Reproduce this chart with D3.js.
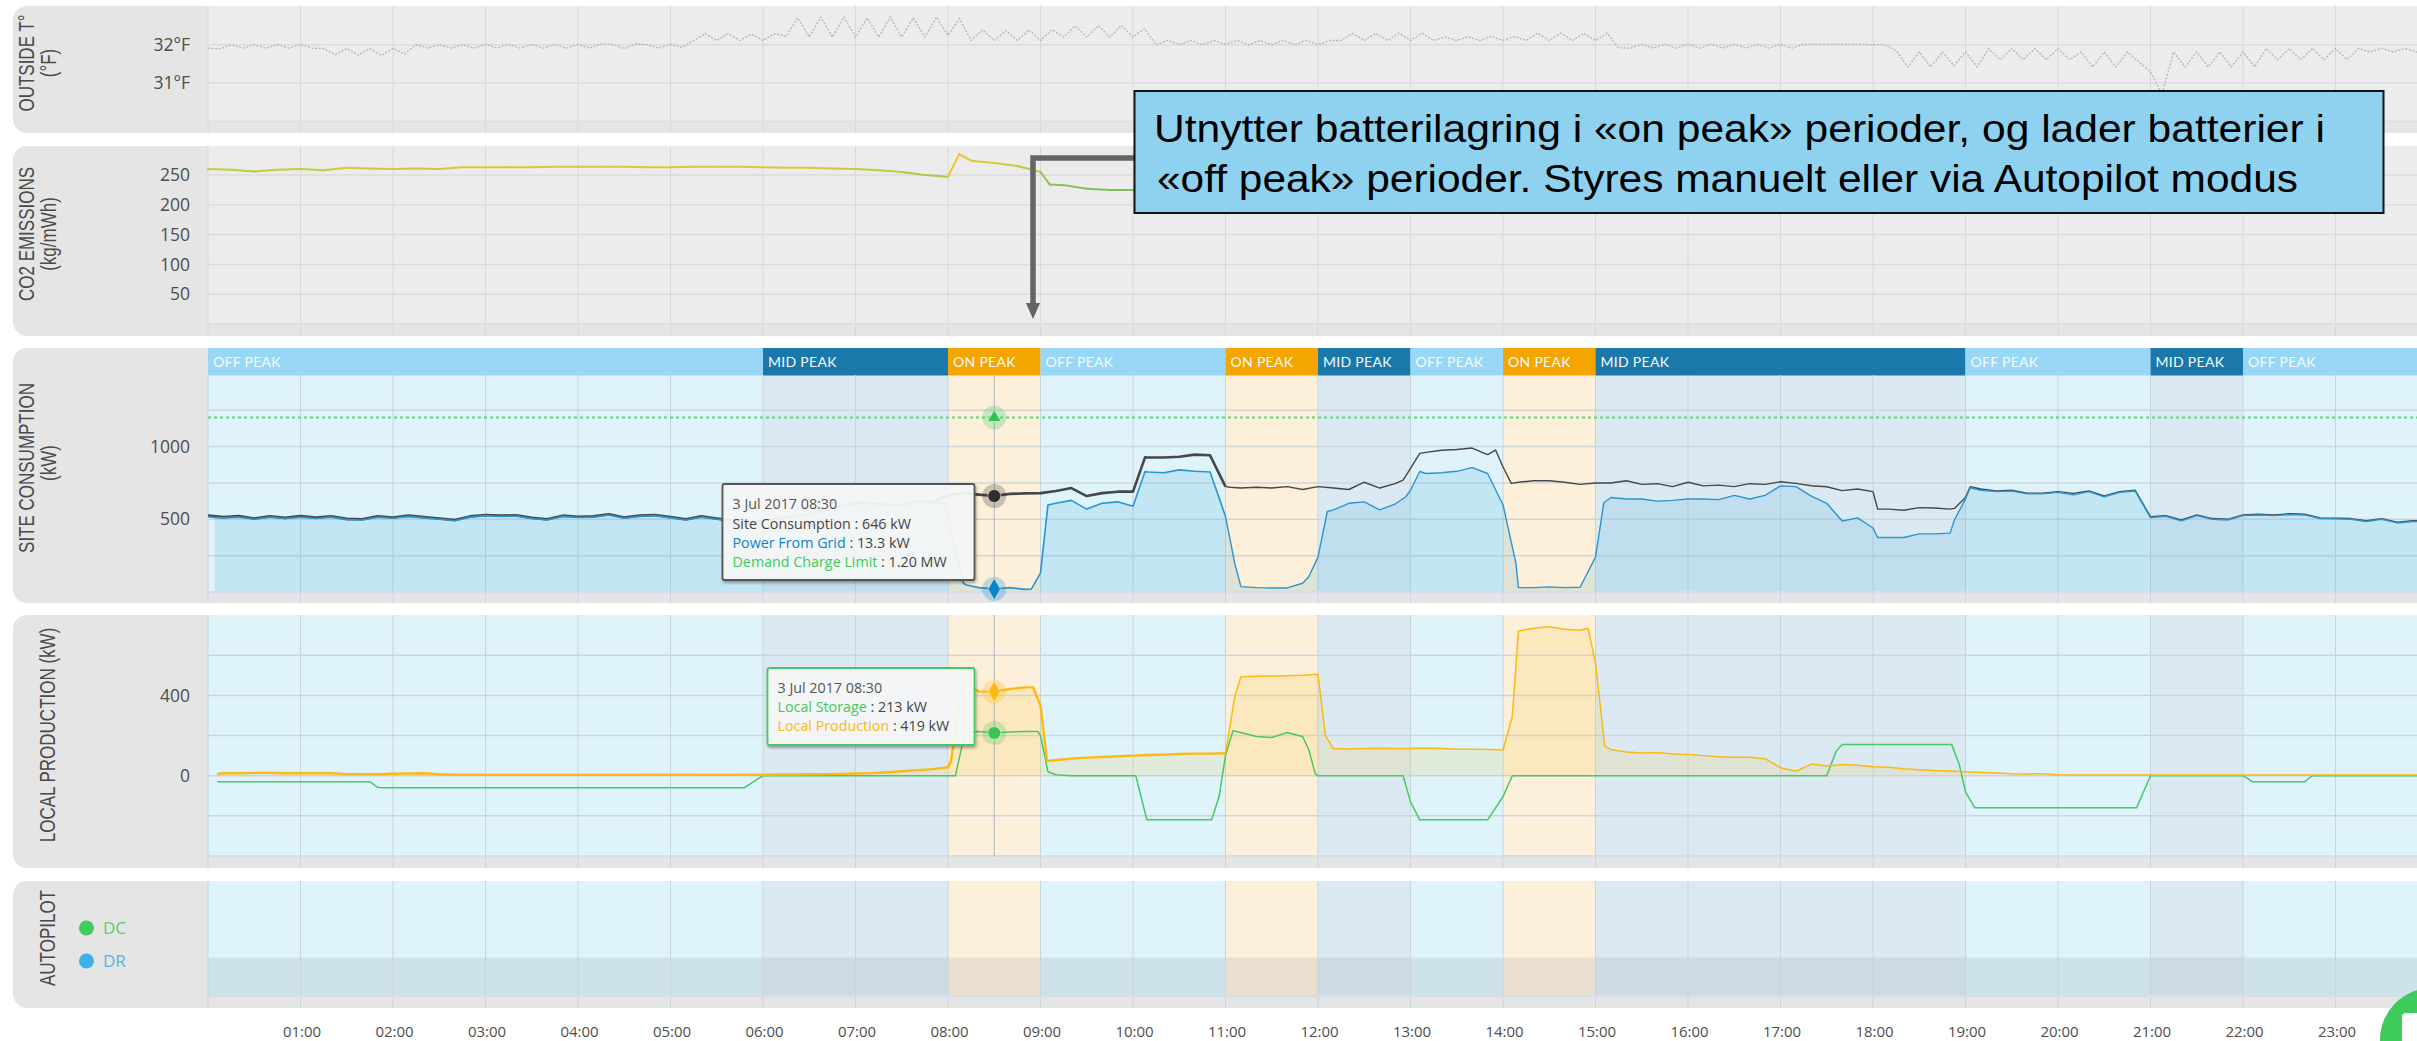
<!DOCTYPE html>
<html>
<head>
<meta charset="utf-8">
<script src="https://cdn.jsdelivr.net/npm/d3@7"></script>
<style>
  html, body { margin: 0; padding: 0; background: #fff; overflow: hidden; }
  text { font-family: "Open Sans", sans-serif; }
  .panelTitle { font-family: "Liberation Sans", sans-serif; font-size: 17px; fill: #4a4a4a; text-anchor: middle; }
  .tick text { font-family: "Open Sans", sans-serif; fill: #4d4d4d; }
</style>
</head>
<body>
<div id="chart"></div>
<script>
// hour labels
const hourLabels = ["01:00","02:00","03:00","04:00","05:00","06:00","07:00","08:00","09:00","10:00","11:00","12:00",
  "13:00","14:00","15:00","16:00","17:00","18:00","19:00","20:00","21:00","22:00","23:00"];
const hourTicks = [1,2,3,4,5,6,7,8,9,10,11,12,13,14,15,16,17,18,19,20,21,22,23];

// tariff periods
const periodNames = ["OFF PEAK","MID PEAK","ON PEAK","OFF PEAK","ON PEAK","MID PEAK","OFF PEAK","ON PEAK","MID PEAK","OFF PEAK","MID PEAK","OFF PEAK"];
const periodStart = [0,6,8,9,11,12,13,14,15,19,21,22];
const periodEnd = [6,8,9,11,12,13,14,15,19,21,22,24.2];

// outside temperature, one value every 7.5 min
const outsideTemp = [
  31.91,31.89,32.0,31.91,32.0,31.91,32.0,31.91,
  32.01,31.91,31.9,31.74,31.9,31.73,31.9,31.72,
  31.9,31.76,32.0,31.91,32.0,31.91,32.0,31.91,
  32.01,31.91,32.01,31.91,32.01,31.91,32.01,31.91,
  32.01,31.91,32.02,32.01,31.9,32.02,32.0,31.91,
  32.01,31.93,32.11,32.29,32.11,32.29,32.11,32.27,
  32.11,32.29,32.22,32.7,32.2,32.72,32.2,32.72,
  32.2,32.7,32.2,32.72,32.2,32.7,32.2,32.72,
  32.24,32.68,32.11,32.39,32.11,32.37,32.11,32.39,
  32.11,32.39,32.2,32.49,32.2,32.5,32.2,32.5,
  32.2,32.42,32.0,32.11,32.0,32.11,32.0,32.11,
  32.01,32.11,32.0,32.11,32.0,32.11,32.0,32.11,
  32.0,32.11,32.11,32.3,32.11,32.3,32.11,32.3,
  32.11,32.3,32.11,32.2,32.11,32.21,32.11,32.22,
  32.11,32.21,32.11,32.3,32.11,32.3,32.11,32.3,
  32.11,32.3,31.92,31.91,32.01,31.91,32.01,31.91,
  32.01,31.91,32.01,31.91,32.01,31.91,32.01,31.91,
  32.01,31.91,32.01,32.01,32.01,32.01,32.01,32.01,
  32.0,32.0,31.85,31.42,31.81,31.42,31.81,31.45,
  31.81,31.42,31.9,31.61,31.9,31.61,31.9,31.61,
  31.9,31.61,31.81,31.42,31.81,31.42,31.81,31.55,
  31.29,30.72,31.81,31.42,31.81,31.42,31.81,31.42,
  31.81,31.42,31.9,31.61,31.9,31.61,31.9,31.61,
  31.9,31.61,31.9,31.81,31.91,31.81,31.9,31.81,31.9
];

// CO2 emissions, one value every 15 min
const co2Emissions = [
  260,259,256,259, 260,258,262,261, 260,261,260,263, 263,263,263,264,
  264,264,264,263, 263,264,264,264, 263,262,262,261, 260,258,255,250,
  247,274,270,265, 255,233,227,225, 225,224,226,228, 230,232,232,235,
  236,238,240,240, 242,242,244,245, 246,246,248,250, 250,250,252,252,
  252,254,254,254, 255,255,256,256, 256,257,257,258, 258,258,258,259,
  259,259,260,260, 260,260,261,261, 261,261,262,262, 262
];
const co2StepHours = [8.12, 9.1];
const co2StepValues = [285, 234];

// site consumption (kW), one value every 10 min
const siteConsumption = [
  525,515,522,505,520,510,
  522,512,520,503,500,520,
  512,525,515,505,495,520,
  530,525,528,510,500,525,
  518,520,535,512,525,530,
  515,500,520,505,490,470,
  490,505,520,535,560,590,
  612,610,600,598,625,615,
  665,680,670,660,675,678,
  680,695,715,660,680,690,
  690,925,925,930,945,940,
  725,715,720,715,725,705,
  725,715,705,755,715,745,
  850,960,975,980,990,945,
  860,755,765,765,755,740,
  750,750,765,740,745,725,
  755,730,735,725,745,740,
  758,747,731,724,697,708,
  690,570,562,580,578,570,
  650,708,695,700,680,680,
  690,678,695,660,690,700,
  518,525,495,530,505,500,
  530,535,530,538,535,510,
  508,505,490,505,480,490,490
];
const siteStepHours = [10.13, 11.05, 12.92, 13.1, 13.92, 14.09, 18.05, 18.88, 19.05];
const siteStepValues = [926, 720, 770, 953, 976, 747, 571, 575, 724];

// power from grid (kW)
const powerFromGrid = [
  518,510,515,500,515,505,
  515,505,515,498,495,515,
  507,520,510,500,490,515,
  525,520,522,505,495,520,
  512,515,530,507,520,525,
  510,495,515,500,485,465,
  485,500,515,530,555,585,
  605,605,595,592,620,610,
  520,60,30,20,30,18,
  130,610,630,570,610,620,
  590,825,820,840,830,825,
  520,37,30,28,28,60,
  240,565,610,620,565,605,
  700,815,820,830,855,815,
  600,30,30,35,30,33,
  240,650,640,640,625,630,
  640,640,635,665,640,665,
  730,725,660,610,488,510,
  440,375,375,400,400,405,
  640,700,690,695,675,675,
  685,668,690,655,685,695,
  512,520,490,525,500,495,
  525,530,525,532,530,505,
  503,500,485,500,475,485,485
];
const gridStepHours = [0.07, 7.97, 8.2, 8.9, 9.08, 10.13, 11.1, 11.9, 12.1, 12.95, 13.1, 14.14, 15.09, 18.05, 18.88, 19.05];
const gridStepValues = [513, 610, 48, 20, 598, 828, 196, 105, 552, 655, 829, 197, 614, 375, 495, 717];

// demand charge limit (kW)
const demandLimit = [1200, 1200];
const demandHours = [0, 24.2];

// local production (kW)
const localProduction = [
  8,12,12,14,15,12,
  12,13,12,8,8,7,
  10,11,12,7,5,5,
  4,4,4,4,4,4,
  4,4,4,4,4,5,
  5,5,4,4,4,5,
  5,6,6,7,8,9,
  11,13,17,22,28,33,
  42,470,420,419,432,440,
  350,78,85,90,93,97,
  100,103,105,108,110,110,
  112,493,495,497,498,500,
  505,135,133,136,137,136,
  136,138,135,132,132,131,
  128,720,735,742,730,725,
  560,130,118,113,115,108,
  105,100,95,92,92,85,
  40,22,58,48,56,52,
  45,42,35,30,26,24,
  20,16,13,10,9,10,
  5,4,4,3,3,3,
  3,3,3,3,3,3,
  3,3,3,3,3,3,
  4,3,3,3,3,3,3
];
const prodStepHours = [0.1, 8.03, 8.92, 9.07, 11.1, 12.08, 14.1, 14.92, 15.1];
const prodStepValues = [9, 70, 440, 73, 393, 200, 294, 735, 148];

// local storage (kW)
const localStorage_ = [
  -30,-30,-30,-30,-30,-30,
  -30,-30,-30,-30,-30,-58,
  -60,-60,-60,-60,-60,-60,
  -60,-60,-60,-60,-60,-60,
  -60,-60,-60,-60,-60,-60,
  -60,-60,-60,-60,-60,-50,
  0,0,0,0,0,0,
  0,0,0,0,0,0,
  0,180,220,213,218,220,
  200,5,0,0,0,0,
  0,-220,-220,-220,-220,-220,
  100,215,195,190,215,195,
  0,0,0,0,0,0,
  -130,-220,-220,-220,-220,-220,
  -105,0,0,0,0,0,
  0,0,0,0,0,0,
  0,0,0,0,0,0,
  0,0,0,0,156,156,
  156,156,156,156,156,156,
  -80,-160,-160,-160,-160,-160,
  -160,-160,-160,-160,-160,-160,
  0,0,0,0,0,0,
  0,-30,-30,-30,-30,0,
  0,0,0,0,0,0,0
];
const storStepHours = [0.1, 1.75, 1.88, 5.8, 8.08, 8.24, 8.97, 9.08, 10.03, 10.15, 10.85, 10.93, 11.08, 11.9, 11.97, 12.92, 13.1, 14.1, 17.6, 18.85, 18.93, 19.1, 20.85, 21.95, 22.1, 22.65, 22.75];
const storStepValues = [-30, -30, -60, -60, 0, 219, 220, 20, 0, -220, -220, -105, 224, 130, 10, 0, -220, 0, 120, 156, 60, -160, -160, 0, -30, -30, 0];

const periodHeader = { "OFF PEAK": "#98d8f6", "MID PEAK": "#1a78aa", "ON PEAK": "#f5a500" };
const periodBody = { "OFF PEAK": "#dff3fb", "MID PEAK": "#dbeaf2", "ON PEAK": "#fdf0da" };

let svg = d3.select("#chart").append("svg")
  .attr("width", 2417).attr("height", 1041)
  .style("display", "block");

let x = d3.scaleLinear().domain([0, 24]).range([208, 2428]);

// regular samples + the extra points read on the steep edges, sorted by hour
function toPoints(values, perHour, stepHours, stepValues) {
  let pts = values.map((v, i) => [i / perHour, v]);
  stepHours.forEach((h, i) => pts.push([h, stepValues[i]]));
  return pts.sort((a, b) => a[0] - b[0]);
}

let defs = svg.append("defs");
let shadow = defs.append("filter").attr("id", "tipShadow").attr("x", "-5%").attr("y", "-10%").attr("width", "112%").attr("height", "125%");
shadow.append("feDropShadow").attr("dx", 1).attr("dy", 2).attr("stdDeviation", 1.5).attr("flood-color", "#000").attr("flood-opacity", 0.35);

// panel frame: grey rounded block + plot area
function drawPanel(top, bottom, plotBottom, plotFill) {
  svg.append("rect").attr("x", 13).attr("y", top).attr("width", 2460).attr("height", bottom - top)
    .attr("rx", 14).attr("fill", "#e5e5e5");
  if (plotFill) {
    svg.append("rect").attr("x", 208).attr("y", top).attr("width", 2209).attr("height", plotBottom - top)
      .attr("fill", plotFill);
  }
}

function drawBands(top, bottom) {
  svg.append("g").selectAll("rect").data(periodNames).enter().append("rect")
    .attr("x", (d, i) => x(periodStart[i]))
    .attr("y", top)
    .attr("width", (d, i) => x(periodEnd[i]) - x(periodStart[i]))
    .attr("height", bottom - top)
    .attr("fill", d => periodBody[d]);
}

function drawVerticals(top, bottom, color) {
  svg.append("g").selectAll("line").data([0].concat(hourTicks)).enter().append("line")
    .attr("x1", d => x(d)).attr("x2", d => x(d))
    .attr("y1", top).attr("y2", bottom)
    .attr("stroke", color).attr("stroke-width", 1);
}

function drawHorizontals(scale, values, color) {
  svg.append("g").selectAll("line").data(values).enter().append("line")
    .attr("x1", 208).attr("x2", 2417)
    .attr("y1", d => scale(d)).attr("y2", d => scale(d))
    .attr("stroke", color).attr("stroke-width", 1.5);
}

function drawYAxis(scale, ticks, format) {
  let g = svg.append("g").attr("transform", "translate(197,0)")
    .call(d3.axisLeft(scale).tickValues(ticks).tickSize(0).tickPadding(7).tickFormat(format));
  g.select(".domain").remove();
  g.selectAll("text").style("font-size", "17.5px");
}

function baseLine(scale, y, color) {
  svg.append("line").attr("x1", 208).attr("x2", 2417).attr("y1", scale(y)).attr("y2", scale(y))
    .attr("stroke", color).attr("stroke-width", 2);
}

// the panel titles are stretched across in the picture
function title(text, cx, cy) {
  svg.append("text").attr("class", "panelTitle")
    .attr("transform", "translate(" + cx + "," + cy + ") scale(1.3,1) rotate(-90)")
    .text(text);
}

// ---- outside temperature
drawPanel(6, 133, 121, "#ececec");
let yTemp = d3.scaleLinear().domain([30, 33]).range([121.5, 6.3]);
drawHorizontals(yTemp, [31, 32], "#dcdcdc");
drawVerticals(6, 133, "#d8d8d8");
baseLine(yTemp, 30, "#d9dfec");
svg.append("path").datum(outsideTemp)
  .attr("d", d3.line().x((d, i) => x(i / 8)).y(d => yTemp(d)))
  .attr("fill", "none").attr("stroke", "#b4b4b4").attr("stroke-width", 1.3).attr("stroke-dasharray", "2,1.6");
drawYAxis(yTemp, [31, 32], d => d + "°F");
title("OUTSIDE T°", 34, 63);
title("(°F)", 56, 63);

// ---- CO2
drawPanel(146, 336, 324, "#ececec");
let yCo2 = d3.scaleLinear().domain([0, 250]).range([324, 175]);
drawHorizontals(yCo2, [50, 100, 150, 200, 250], "#dcdcdc");
drawVerticals(146, 336, "#d8d8d8");
baseLine(yCo2, 0, "#d9dfec");
let co2Color = d3.scaleLinear().domain([225, 262, 285]).range(["#7dbf5e", "#cfcb3e", "#f7c22d"]);
let co2Points = toPoints(co2Emissions, 4, co2StepHours, co2StepValues);
svg.append("g").selectAll("line").data(co2Points.slice(1)).enter().append("line")
  .attr("x1", (d, i) => x(co2Points[i][0])).attr("x2", d => x(d[0]))
  .attr("y1", (d, i) => yCo2(co2Points[i][1])).attr("y2", d => yCo2(d[1]))
  .attr("stroke", d => co2Color(d[1])).attr("stroke-width", 2).attr("stroke-linecap", "round");
drawYAxis(yCo2, [50, 100, 150, 200, 250], d => d);
title("CO2 EMISSIONS", 34, 234);
title("(kg/mWh)", 56, 234);

// ---- site consumption
drawPanel(348, 603);
let ySite = d3.scaleLinear().domain([0, 1000]).range([592, 446.6]);
drawBands(375, 592);
svg.append("g").selectAll("rect").data(periodNames).enter().append("rect")
  .attr("x", (d, i) => x(periodStart[i]))
  .attr("y", 348).attr("width", (d, i) => x(periodEnd[i]) - x(periodStart[i])).attr("height", 27.5)
  .attr("fill", d => periodHeader[d]);
svg.append("g").selectAll("text").data(periodNames).enter().append("text")
  .attr("x", (d, i) => x(periodStart[i]) + 5)
  .attr("y", 366.5)
  .attr("fill", "#f4fbff").style("font-size", "14px").style("font-family", "Lato").style("letter-spacing", "0.3px")
  .text(d => d);
drawHorizontals(ySite, [250, 500, 750, 1000, 1250], "#cfd6db");
drawVerticals(375, 603, "#c8d3dc");
let sitePoints = toPoints(siteConsumption, 6, siteStepHours, siteStepValues);
let gridPoints = toPoints(powerFromGrid, 6, gridStepHours, gridStepValues);
svg.append("path").datum(gridPoints.filter(d => d[0] > 0.05))
  .attr("d", d3.area().x(d => x(d[0])).y0(ySite(0)).y1(d => ySite(d[1])))
  .attr("fill", "#0088cc").attr("fill-opacity", 0.12);
baseLine(ySite, 0, "#d5ddea");
svg.append("path").datum(demandLimit)
  .attr("d", d3.line().x((d, i) => x(demandHours[i])).y(d => ySite(d)))
  .attr("fill", "none").attr("stroke", "#5ed67c").attr("stroke-width", 1.8).attr("stroke-dasharray", "3,3");

let siteLine = d3.line().x(d => x(d[0])).y(d => ySite(d[1]));
function thickThin(pts, line, color, split, wide, thin) {
  svg.append("path").datum(pts.filter(d => d[0] <= split)).attr("d", line).attr("fill", "none")
    .attr("stroke", color).attr("stroke-width", wide).attr("stroke-linejoin", "round");
  svg.append("path").datum(pts.filter(d => d[0] >= split)).attr("d", line).attr("fill", "none")
    .attr("stroke", color).attr("stroke-width", thin).attr("stroke-linejoin", "round");
}
thickThin(sitePoints, siteLine, "#474747", 11, 2.6, 1.4);
thickThin(gridPoints, siteLine, "#2a95d0", 11, 1.6, 1.4);
drawYAxis(ySite, [500, 1000], d => d);
title("SITE CONSUMPTION", 34, 468);
title("(kW)", 56, 463);

// ---- local production
drawPanel(615, 868);
let yProd = d3.scaleLinear().domain([0, 400]).range([775.7, 695.4]);
drawBands(615, 857);
drawHorizontals(yProd, [-200, 0, 200, 400, 600], "#cfd6db");
drawVerticals(615, 868, "#c8d3dc");
let prodPoints = toPoints(localProduction, 6, prodStepHours, prodStepValues).filter(d => d[0] >= 0.1);
let storPoints = toPoints(localStorage_, 6, storStepHours, storStepValues).filter(d => d[0] >= 0.1);
svg.append("path").datum(prodPoints)
  .attr("d", d3.area().x(d => x(d[0])).y0(yProd(0)).y1(d => yProd(d[1])))
  .attr("fill", "#f5b800").attr("fill-opacity", 0.12);
baseLine(yProd, -400, "#d5ddea");
let prodLine = d3.line().x(d => x(d[0])).y(d => yProd(d[1]));
thickThin(storPoints, prodLine, "#46c866", 11, 1.5, 1.5);
thickThin(prodPoints, prodLine, "#fdb813", 11, 2.4, 1.5);
drawYAxis(yProd, [0, 400], d => d);
title("LOCAL PRODUCTION (kW)", 55, 735);

// ---- autopilot
drawPanel(881, 1008);
let yAuto = d3.scaleLinear().domain([0, 3]).range([996, 881]);
drawBands(881, 996);
svg.append("rect").attr("x", 208).attr("y", yAuto(1)).attr("width", 2209).attr("height", yAuto(0) - yAuto(1))
  .attr("fill", "#5a6a78").attr("fill-opacity", 0.12);
drawVerticals(881, 1008, "#c8d3dc");
baseLine(yAuto, 0, "#d5ddea");
title("AUTOPILOT", 55, 938);
svg.append("circle").attr("cx", 86.5).attr("cy", 928).attr("r", 7.5).attr("fill", "#3ecb5c");
svg.append("circle").attr("cx", 86.5).attr("cy", 961).attr("r", 7.5).attr("fill", "#3eb0ea");
svg.append("text").attr("x", 103).attr("y", 934).attr("fill", "#55cf70").style("font-size", "17px").text("DC");
svg.append("text").attr("x", 103).attr("y", 967).attr("fill", "#55b5ea").style("font-size", "17px").text("DR");

// ---- time axis
let xAxisG = svg.append("g").attr("transform", "translate(0,1026)")
  .call(d3.axisBottom(x).tickValues(hourTicks).tickSize(0).tickPadding(0).tickFormat((d, i) => hourLabels[i]));
xAxisG.select(".domain").remove();
xAxisG.selectAll("text").style("font-size", "15px").attr("dx", 1);

// ---- cursor at 08:30 with markers
const cursorHour = 8.5;
svg.append("line").attr("x1", x(cursorHour)).attr("x2", x(cursorHour)).attr("y1", 375).attr("y2", 592).attr("stroke", "#b0b6ba");
svg.append("line").attr("x1", x(cursorHour)).attr("x2", x(cursorHour)).attr("y1", 615).attr("y2", 857).attr("stroke", "#b0b6ba");

function marker(type, yPos, color, size) {
  let cx = x(cursorHour);
  svg.append("circle").attr("cx", cx).attr("cy", yPos).attr("r", 12).attr("fill", color).attr("fill-opacity", 0.25);
  svg.append("path").attr("transform", "translate(" + cx + "," + yPos + ")")
    .attr("d", d3.symbol().type(type).size(size))
    .attr("fill", color).attr("stroke", "#fff").attr("stroke-opacity", 0.5);
}
marker(d3.symbolTriangle, ySite(1200), "#2fc45a", 80);
marker(d3.symbolCircle, ySite(660), "#2d2d2d", 130);
marker(d3.symbolDiamond, ySite(20), "#0a84cc", 135);
marker(d3.symbolDiamond, yProd(419) , "#fdb813", 135);
marker(d3.symbolCircle, yProd(213), "#3ec455", 130);

// ---- tooltips
function tooltip(left, top, w, h, border, lines) {
  svg.append("rect").attr("x", left).attr("y", top).attr("width", w).attr("height", h).attr("rx", 2)
    .attr("fill", "#f7f8f9").attr("fill-opacity", 0.92)
    .attr("stroke", border).attr("stroke-width", 1.8).attr("filter", "url(#tipShadow)");
  lines.forEach(l => {
    let t = svg.append("text").attr("x", left + 10).attr("y", top + l.dy).style("font-size", "14.3px").attr("fill", "#444");
    t.append("tspan").attr("fill", l.color || "#444").text(l.label);
    if (l.value) t.append("tspan").text(" : " + l.value);
  });
}
tooltip(722.5, 484, 252, 96, "#555", [
  { dy: 25, label: "3 Jul 2017 08:30", color: "#555" },
  { dy: 45, label: "Site Consumption", color: "#444", value: "646 kW" },
  { dy: 64, label: "Power From Grid", color: "#0a84cc", value: "13.3 kW" },
  { dy: 83, label: "Demand Charge Limit", color: "#3ecb5c", value: "1.20 MW" }
]);
tooltip(767.5, 668, 207, 77, "#46c866", [
  { dy: 25, label: "3 Jul 2017 08:30", color: "#555" },
  { dy: 44, label: "Local Storage", color: "#3ecb5c", value: "213 kW" },
  { dy: 63, label: "Local Production", color: "#fdb813", value: "419 kW" }
]);

// ---- arrow + callout
svg.append("path").attr("d", "M1136,158H1033V306").attr("fill", "none").attr("stroke", "#636368").attr("stroke-width", 5.5);
svg.append("path").attr("d", "M1026,303L1033,319L1040,303Z").attr("fill", "#636368");
svg.append("rect").attr("x", 1134.5).attr("y", 91).attr("width", 1249).attr("height", 122)
  .attr("fill", "#8fd2f0").attr("stroke", "#111").attr("stroke-width", 2);
svg.append("text").attr("x", 1154).attr("y", 141.5).attr("textLength", 1171).attr("lengthAdjust", "spacingAndGlyphs")
  .style("font-family", "Liberation Sans").style("font-size", "38px").attr("fill", "#000")
  .text("Utnytter batterilagring i «on peak» perioder, og lader batterier i");
svg.append("text").attr("x", 1157).attr("y", 191.5).attr("textLength", 1141).attr("lengthAdjust", "spacingAndGlyphs")
  .style("font-family", "Liberation Sans").style("font-size", "38px").attr("fill", "#000")
  .text("«off peak» perioder. Styres manuelt eller via Autopilot modus");

// ---- chat bubble cut off at the corner
svg.append("circle").attr("cx", 2432).attr("cy", 1040).attr("r", 52).attr("fill", "#3ecb5c");
svg.append("rect").attr("x", 2402).attr("y", 1013).attr("width", 40).attr("height", 40).attr("rx", 4).attr("fill", "#fff");
</script>
</body>
</html>
